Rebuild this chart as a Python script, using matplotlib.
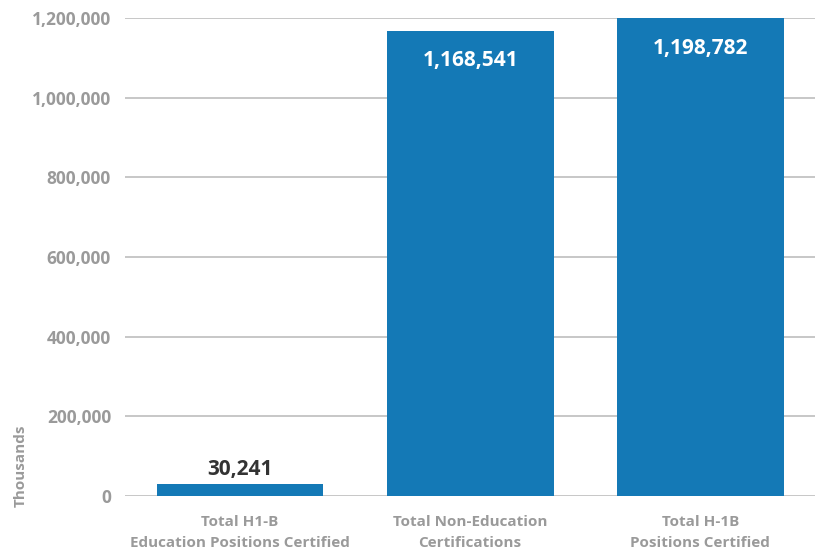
import numpy as np
import matplotlib
matplotlib.use("Agg")
import matplotlib.pyplot as plt
from matplotlib.ticker import FuncFormatter

plt.rcParams['font.family'] = ['Open Sans', 'DejaVu Sans']
plt.rcParams['font.weight'] = 'bold'

# data
categories = ["Total H1-B\nEducation Positions Certified",
              "Total Non-Education\nCertifications",
              "Total H-1B\nPositions Certified"]
values = [30241, 1168541, 1198782]
yticks = [0, 200000, 400000, 600000, 800000, 1000000, 1200000]

bar_color = "#1479b6"
grey = "#9a9a9a"

fig = plt.figure(figsize=(8.17, 5.54), dpi=100)
ax = fig.add_axes([0.153, 0.1047, 0.845, 0.8628])

x = np.arange(len(categories))
bars = ax.bar(x, values, width=0.725, color=bar_color, zorder=1, clip_on=False)

ax.set_xlim(-0.5, 2.5)
ax.set_ylim(0, 1200000)
ax.set_yticks(yticks)
ax.yaxis.set_major_formatter(FuncFormatter(lambda v, p: f"{int(v):,}"))
ax.grid(axis="y", color="#bdbdbd", linewidth=1.2, zorder=0)
ax.set_axisbelow(True)
for s in ax.spines.values():
    s.set_visible(False)
ax.tick_params(axis="y", length=0, pad=10, labelsize=12.5, labelcolor=grey)
ax.tick_params(axis="x", length=0, pad=14, labelsize=11, labelcolor=grey)
ax.set_xticks(x)
ax.set_xticklabels(categories, linespacing=1.6)

# value labels
for i, v in enumerate(values):
    if v < 200000:
        ax.annotate(f"{v:,}", (x[i], v), xytext=(0, 3), textcoords="offset points",
                    ha="center", va="bottom", fontsize=15, fontweight="bold", color="#333333")
    else:
        ax.annotate(f"{v:,}", (x[i], v), xytext=(0, -14), textcoords="offset points",
                    ha="center", va="top", fontsize=15, fontweight="bold", color="white")

fig.text(0.025, 0.16, "Thousands", rotation=90, ha="center", va="center",
         fontsize=11, fontweight="bold", color=grey)

fig.savefig("out.png", dpi=100)
